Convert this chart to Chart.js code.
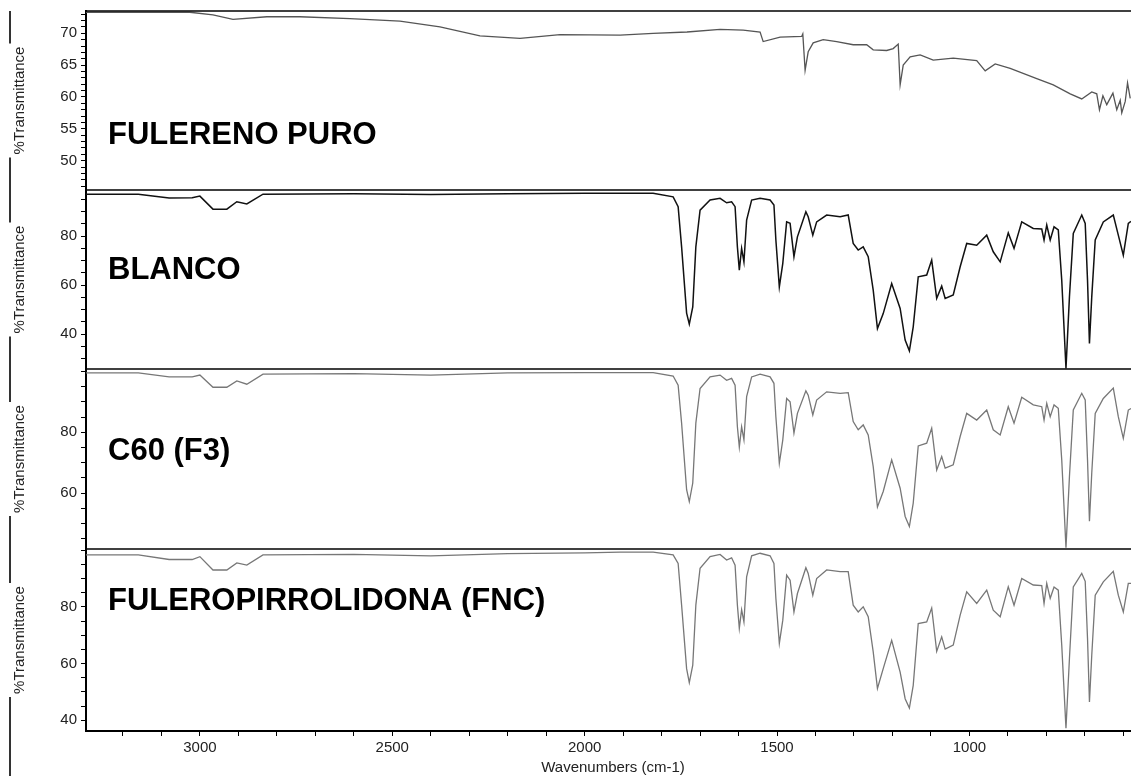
<!DOCTYPE html>
<html>
<head>
<meta charset="utf-8" />
<script src="https://cdn.jsdelivr.net/npm/chart.js"></script>
<style>
  html, body { margin: 0; padding: 0; background: #fff; }
  body { width: 1131px; height: 776px; position: relative; overflow: hidden; }
  .panel { position: absolute; left: 0; width: 1131px; }
  canvas { display: block; }
</style>
</head>
<body>
<div class="panel" style="top:7px"><canvas id="p1" width="1131" height="187"></canvas></div>
<div class="panel" style="top:186px"><canvas id="p2" width="1131" height="187"></canvas></div>
<div class="panel" style="top:365px"><canvas id="p3" width="1131" height="188"></canvas></div>
<div class="panel" style="top:545px"><canvas id="p4" width="1131" height="231"></canvas></div>

<script>
// FTIR spectra, %T vs wavenumber (cm-1)
const wavenumbersPure = [3296, 3026, 2966, 2914, 2826, 2740, 2610, 2480, 2376, 2272,
  2168, 2064, 1908, 1822, 1734, 1648, 1588, 1544, 1536, 1492,
  1436, 1433, 1427, 1419, 1406, 1380, 1345, 1302, 1267, 1250,
  1215, 1198, 1185, 1180, 1172, 1154, 1128, 1094, 1042, 981,
  959, 933, 894, 825, 782, 738, 708, 682, 669, 662,
  653, 643, 627, 617, 608, 604, 595, 589, 582];
const fulerenoPuro = [73.3, 73.3, 72.9, 72.2, 72.6, 72.6, 72.3, 71.9, 71.0, 69.6,
  69.2, 69.8, 69.7, 70.0, 70.2, 70.6, 70.5, 70.2, 68.7, 69.4,
  69.5, 69.9, 64.2, 67.1, 68.5, 69.0, 68.7, 68.2, 68.2, 67.4,
  67.3, 67.6, 68.3, 61.9, 65.0, 66.3, 66.6, 65.8, 66.1, 65.7,
  64.1, 65.2, 64.5, 62.9, 61.9, 60.5, 59.7, 60.8, 60.5, 58.0,
  60.2, 58.8, 60.6, 58.0, 59.5, 57.5, 59.3, 62.2, 59.8];

const wavenumbers = [3296, 3160, 3080, 3020, 3000, 2966, 2930, 2904, 2878, 2836,
  2600, 2400, 2200, 2000, 1908, 1822, 1770, 1757, 1748, 1735,
  1728, 1719, 1711, 1700, 1674, 1648, 1631, 1618, 1609, 1603,
  1598, 1592, 1586, 1579, 1566, 1544, 1518, 1508, 1503, 1494,
  1485, 1475, 1466, 1456, 1447, 1425, 1419, 1407, 1397, 1371,
  1336, 1315, 1302, 1289, 1276, 1263, 1250, 1239, 1224, 1202,
  1180, 1167, 1156, 1146, 1133, 1111, 1098, 1085, 1072, 1063,
  1042, 1024, 1007, 981, 955, 938, 920, 899, 884, 864,
  834, 812, 806, 799, 790, 780, 769, 760, 749, 740,
  730, 708, 699, 693, 688, 682, 673, 652, 626, 613,
  600, 587, 580];
const blanco = [97.1, 97.1, 95.5, 95.6, 96.3, 91.0, 91.0, 94.0, 93.1, 97.1,
  97.3, 97.0, 97.3, 97.5, 97.5, 97.5, 96.0, 92.0, 75.6, 48.6,
  44.1, 51.1, 75.6, 90.6, 94.7, 95.4, 93.6, 94.0, 92.0, 75.6,
  66.1, 75.0, 69.5, 86.5, 94.7, 95.4, 94.7, 92.7, 78.4, 59.3,
  68.9, 85.8, 85.2, 71.6, 79.7, 89.9, 87.9, 80.4, 85.8, 88.6,
  87.9, 88.6, 77.0, 74.3, 75.6, 71.6, 58.0, 42.3, 48.4, 60.7,
  50.5, 37.6, 33.2, 43.0, 63.4, 64.1, 70.2, 54.6, 59.6, 54.6,
  56.0, 67.5, 77.0, 76.3, 80.4, 73.6, 69.5, 81.3, 75.0, 85.8,
  83.1, 82.9, 78.4, 84.5, 78.4, 83.8, 82.5, 62.0, 26.0, 55.2,
  81.1, 88.6, 85.2, 62.0, 36.2, 55.2, 78.4, 85.8, 88.6, 80.4,
  72.2, 85.2, 86.0];
const c60F3 = [99.5, 99.5, 98.2, 98.2, 98.8, 94.8, 94.8, 96.9, 95.8, 99.1,
  99.3, 98.8, 99.5, 99.6, 99.6, 99.6, 98.5, 95.5, 83.0, 61.1,
  57.2, 63.3, 83.0, 94.4, 98.2, 98.8, 97.1, 97.7, 95.5, 81.8,
  75.1, 81.8, 77.5, 91.7, 98.2, 99.1, 98.2, 96.1, 85.1, 69.8,
  77.5, 91.1, 90.0, 79.7, 86.2, 93.6, 92.2, 85.7, 90.6, 93.3,
  92.8, 93.0, 83.5, 80.8, 82.4, 79.1, 68.7, 55.4, 60.5, 70.9,
  61.6, 52.3, 49.0, 56.7, 75.5, 76.4, 81.3, 67.6, 72.0, 68.2,
  69.3, 78.6, 86.2, 84.0, 87.3, 80.8, 79.1, 88.4, 83.0, 91.5,
  89.0, 88.4, 84.0, 89.5, 85.1, 89.0, 87.9, 70.9, 42.0, 65.4,
  87.3, 92.8, 90.6, 70.9, 50.7, 66.6, 86.2, 91.1, 94.5, 85.1,
  78.0, 87.3, 87.8];
const fnc = [98.3, 98.3, 96.7, 96.7, 97.7, 93.0, 93.0, 95.5, 94.7, 98.3,
  98.5, 98.0, 98.8, 99.0, 99.3, 99.3, 98.3, 95.3, 80.6, 58.2,
  53.3, 59.4, 80.6, 93.6, 97.7, 98.5, 96.5, 97.3, 94.7, 80.6,
  72.4, 79.0, 74.7, 90.6, 98.0, 98.9, 98.0, 95.3, 83.0, 67.1,
  75.3, 91.2, 89.4, 78.2, 84.7, 93.8, 91.8, 84.1, 90.0, 93.0,
  92.4, 92.4, 80.6, 78.2, 80.0, 76.5, 64.1, 51.2, 58.2, 68.2,
  57.0, 47.6, 44.3, 52.3, 74.1, 74.7, 79.6, 64.3, 69.4, 65.1,
  66.5, 77.1, 85.3, 81.2, 85.9, 78.8, 76.5, 87.1, 80.6, 90.0,
  87.7, 87.5, 81.2, 88.3, 83.0, 87.0, 85.9, 66.5, 37.2, 61.8,
  87.0, 91.8, 89.0, 68.8, 46.4, 62.9, 84.1, 88.8, 92.5, 84.1,
  78.2, 88.3, 88.3];

// axis labels
const xTickLabels = [3000, 2500, 2000, 1500, 1000];
const xRange = [580, 3296];
const yTickLabels1 = [50, 55, 60, 65, 70];
const yTickLabels2 = [40, 60, 80];
const yTickLabels3 = [60, 80];
const yTickLabels4 = [40, 60, 80];

const FONT = 'Arial, "Liberation Sans", Helvetica, sans-serif';

function stepTicks(min, max, step) {
  const out = [];
  for (let v = Math.ceil(min / step) * step; v <= max; v += step) out.push({ value: v });
  return out;
}

// frame line, sample name and bracketed y title for one panel
const panelDecor = {
  id: 'panelDecor',
  afterDraw(chart, args, opts) {
    const { ctx, chartArea: a } = chart;
    ctx.save();
    ctx.strokeStyle = '#000';
    ctx.lineWidth = 1.5;
    ctx.beginPath();
    ctx.moveTo(a.left, a.top);
    ctx.lineTo(a.right, a.top);
    ctx.stroke();

    ctx.fillStyle = '#000';
    ctx.font = 'bold 31px ' + FONT;
    ctx.textBaseline = 'alphabetic';
    ctx.textAlign = 'left';
    ctx.fillText(opts.name, 108, a.top + opts.nameY);

    const title = '%Transmittance';
    ctx.font = '15px ' + FONT;
    const w = ctx.measureText(title).width;
    const mid = (a.top + a.bottom) / 2;
    ctx.fillStyle = '#222';
    ctx.save();
    ctx.translate(24, mid);
    ctx.rotate(-Math.PI / 2);
    ctx.textAlign = 'center';
    ctx.fillText(title, 0, 0);
    ctx.restore();

    const bottom = opts.last ? chart.height : a.bottom + 4;
    ctx.strokeStyle = '#333';
    ctx.lineWidth = 2;
    ctx.beginPath();
    ctx.moveTo(10, opts.first ? a.top : 0);
    ctx.lineTo(10, mid - w / 2 - 3);
    ctx.moveTo(10, mid + w / 2 + 3);
    ctx.lineTo(10, bottom);
    ctx.stroke();

    if (opts.last) {
      ctx.fillStyle = '#222';
      ctx.font = '15px ' + FONT;
      ctx.textAlign = 'center';
      ctx.textBaseline = 'middle';
      ctx.fillText('Wavenumbers (cm-1)', 613, a.bottom + 37);
    }
    ctx.restore();
  }
};

function makePanel(id, xs, ys, color, width, yMin, yMax, yStep, yLabels, name, nameY, first, last) {
  new Chart(document.getElementById(id), {
    type: 'line',
    data: {
      datasets: [{
        data: xs.map((x, i) => ({ x: x, y: ys[i] })),
        borderColor: color,
        borderWidth: width,
        pointRadius: 0,
        tension: 0,
        fill: false
      }]
    },
    options: {
      responsive: false,
      animation: false,
      events: [],
      layout: { padding: { top: 4, bottom: last ? 0 : 4, left: 0, right: 0 } },
      plugins: {
        legend: { display: false },
        tooltip: { enabled: false },
        panelDecor: { name: name, nameY: nameY, first: first, last: last }
      },
      scales: {
        x: {
          type: 'linear',
          min: xRange[0],
          max: xRange[1],
          reverse: true,
          display: last,
          afterFit: (s) => {
            if (last) s.height = 45;
            s.paddingLeft = 0;
            s.paddingRight = 0;
          },
          afterBuildTicks: (s) => { s.ticks = stepTicks(600, 3200, 100); },
          border: { display: true, color: '#000', width: 2 },
          grid: { drawOnChartArea: false, drawTicks: true, tickLength: 5, tickColor: '#000', tickWidth: 1 },
          ticks: {
            autoSkip: false,
            maxRotation: 0,
            padding: 3,
            color: '#222',
            font: { family: FONT, size: 15 },
            callback: (v) => xTickLabels.includes(v) ? String(v) : ''
          }
        },
        y: {
          type: 'linear',
          min: yMin,
          max: yMax,
          afterFit: (s) => {
            s.width = 86;
            s.paddingTop = 0;
            s.paddingBottom = 0;
          },
          afterBuildTicks: (s) => { s.ticks = stepTicks(yMin, yMax, yStep); },
          border: { display: true, color: '#000', width: 2 },
          grid: { drawOnChartArea: false, drawTicks: true, tickLength: 5, tickColor: '#000', tickWidth: 1 },
          ticks: {
            autoSkip: false,
            padding: 4,
            color: '#222',
            font: { family: FONT, size: 15 },
            callback: (v) => yLabels.includes(v) ? String(v) : ''
          }
        }
      }
    },
    plugins: [panelDecor]
  });
}

makePanel('p1', wavenumbersPure, fulerenoPuro, '#555', 1.3, 45.4, 73.5, 1, yTickLabels1, 'FULERENO PURO', 133, true, false);
makePanel('p2', wavenumbers, blanco, '#111', 1.5, 25.8, 98.8, 5, yTickLabels2, 'BLANCO', 89, false, false);
makePanel('p3', wavenumbers, c60F3, '#777', 1.3, 41.6, 100.8, 5, yTickLabels3, 'C60 (F3)', 91, false, false);
makePanel('p4', wavenumbers, fnc, '#777', 1.3, 36.2, 100.4, 5, yTickLabels4, 'FULEROPIRROLIDONA (FNC)', 61, false, true);
</script>
</body>
</html>
